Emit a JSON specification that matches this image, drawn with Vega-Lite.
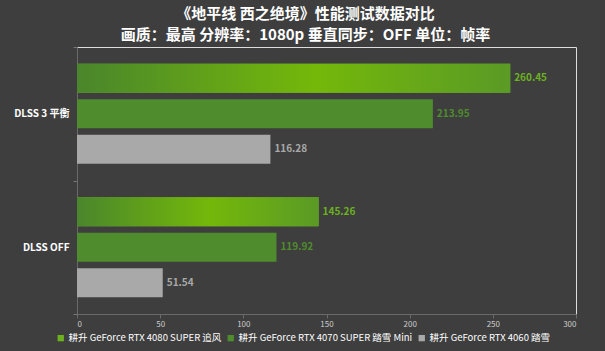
{
  "$schema": "https://vega.github.io/schema/vega-lite/v6.json",
  "width": 499,
  "height": 267,
  "autosize": "none",
  "padding": {"left": 77, "top": 47, "right": 29, "bottom": 37},
  "background": "#3e3e3e",
  "title": {
    "text": "《地平线 西之绝境》性能测试数据对比",
    "subtitle": "画质：最高 分辨率：1080p 垂直同步：OFF 单位：帧率",
    "anchor": "middle",
    "dx": -21,
    "offset": -1,
    "subtitlePadding": 6,
    "font": "Noto Sans CJK SC",
    "fontSize": 15,
    "fontWeight": "bold",
    "color": "#ffffff",
    "subtitleFont": "Noto Sans CJK SC",
    "subtitleFontSize": 15,
    "subtitleFontWeight": "bold",
    "subtitleColor": "#ffffff"
  },
  "data": {
    "values": [
      {"setting": "DLSS 3 平衡", "gpu": "耕升 GeForce RTX 4080 SUPER 追风", "fps": 260.45},
      {"setting": "DLSS 3 平衡", "gpu": "耕升 GeForce RTX 4070 SUPER 踏雪 Mini", "fps": 213.95},
      {"setting": "DLSS 3 平衡", "gpu": "耕升 GeForce RTX 4060 踏雪", "fps": 116.28},
      {"setting": "DLSS OFF", "gpu": "耕升 GeForce RTX 4080 SUPER 追风", "fps": 145.26},
      {"setting": "DLSS OFF", "gpu": "耕升 GeForce RTX 4070 SUPER 踏雪 Mini", "fps": 119.92},
      {"setting": "DLSS OFF", "gpu": "耕升 GeForce RTX 4060 踏雪", "fps": 51.54}
    ]
  },
  "encoding": {
    "y": {
      "field": "setting",
      "type": "nominal",
      "sort": ["DLSS 3 平衡", "DLSS OFF"],
      "scale": {"paddingInner": 0, "paddingOuter": 0},
      "axis": {
        "title": null,
        "labelFont": "Noto Sans CJK SC",
        "labelFontSize": 10,
        "labelFontWeight": "bold",
        "labelColor": "#ffffff",
        "labelPadding": 4,
        "tickBand": "extent",
        "tickSize": 4,
        "tickColor": "#777777",
        "domainColor": "#6a6a6a"
      }
    },
    "yOffset": {
      "field": "gpu",
      "type": "nominal",
      "sort": ["耕升 GeForce RTX 4080 SUPER 追风", "耕升 GeForce RTX 4070 SUPER 踏雪 Mini", "耕升 GeForce RTX 4060 踏雪"],
      "scale": {"paddingInner": 0.18, "paddingOuter": 0.47}
    },
    "x": {
      "field": "fps",
      "type": "quantitative",
      "scale": {"domain": [0, 300]},
      "axis": {
        "title": null,
        "values": [0, 50, 100, 150, 200, 250, 300],
        "grid": false,
        "labelFont": "Noto Sans CJK SC",
        "labelFontSize": 8,
        "labelColor": "#cccccc",
        "tickColor": "#6a6a6a",
        "tickSize": 4,
        "domainColor": "#6a6a6a"
      }
    }
  },
  "layer": [
    {
      "mark": {"type": "bar"},
      "encoding": {
        "color": {
          "field": "gpu",
          "type": "nominal",
          "scale": {
            "domain": ["耕升 GeForce RTX 4080 SUPER 追风", "耕升 GeForce RTX 4070 SUPER 踏雪 Mini", "耕升 GeForce RTX 4060 踏雪"],
            "range": ["#6cb21f", "#4f8c2d", "#a9a9a9"]
          },
          "legend": {
            "title": null,
            "orient": "none",
            "direction": "horizontal",
            "legendX": -21,
            "legendY": 286,
            "symbolType": "square",
            "symbolSize": 40,
            "symbolStrokeWidth": 0,
            "labelFont": "Noto Sans CJK SC",
            "labelFontSize": 9.5,
            "labelColor": "#ffffff",
            "labelOffset": 3,
            "columnPadding": 4,
            "labelLimit": 300
          }
        }
      }
    },
    {
      "transform": [{"filter": "datum.gpu === '耕升 GeForce RTX 4080 SUPER 追风'"}],
      "mark": {
        "type": "bar",
        "color": {
          "gradient": "linear",
          "x1": 0, "x2": 1, "y1": 0, "y2": 0,
          "stops": [
            {"offset": 0, "color": "#4a862c"},
            {"offset": 0.55, "color": "#74b80a"},
            {"offset": 1, "color": "#5a9a26"}
          ]
        }
      }
    },
    {
      "mark": {
        "type": "text",
        "align": "left",
        "baseline": "middle",
        "dx": 4,
        "font": "Noto Sans CJK SC",
        "fontSize": 10,
        "fontWeight": "bold"
      },
      "encoding": {
        "text": {"field": "fps", "type": "quantitative", "format": ".2f"},
        "color": {
          "field": "gpu",
          "type": "nominal",
          "scale": {
            "domain": ["耕升 GeForce RTX 4080 SUPER 追风", "耕升 GeForce RTX 4070 SUPER 踏雪 Mini", "耕升 GeForce RTX 4060 踏雪"],
            "range": ["#7cbb00", "#5c9a2e", "#a6a6a6"]
          },
          "legend": null
        }
      }
    }
  ]
}
